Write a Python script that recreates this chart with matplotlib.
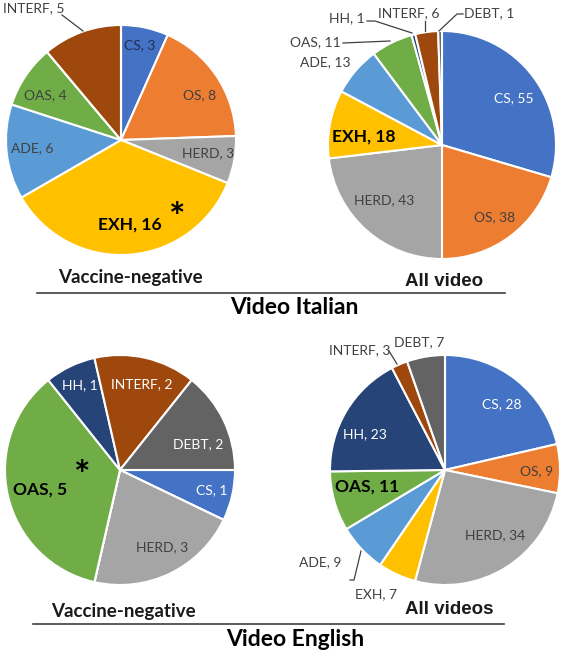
import matplotlib
matplotlib.use("Agg")
import matplotlib.pyplot as plt

# categories in drawing order (clockwise)
cats = ["CS", "OS", "HERD", "EXH", "ADE", "OAS", "HH", "INTERF", "DEBT"]
colors = ["#4472C4", "#ED7D31", "#A5A5A5", "#FFC000", "#5B9BD5",
          "#70AD47", "#264478", "#9E480E", "#636363"]

ita_neg = [3, 8, 3, 16, 6, 4, 0, 5, 0]
ita_all = [55, 38, 43, 18, 13, 11, 1, 6, 1]
eng_neg = [1, 0, 3, 0, 0, 5, 1, 2, 2]
eng_all = [28, 9, 34, 7, 9, 11, 23, 3, 7]

W, H = 564, 654
fig = plt.figure(figsize=(W / 100, H / 100), dpi=100)
ax = fig.add_axes([0, 0, 1, 1])

LABEL_FONT = "Lato"
DARK = "#404040"


def px(x, y):
    # pixel coords (y down) -> axes coords
    return x, H - y


# label layout per pie: category -> (x, y, color, bold)
pies = [
    dict(vals=ita_neg, center=(121, 140), r=115, start=90, labels={
        "CS": (140, 45, "#203050", False),
        "OS": (200, 95, DARK, False),
        "HERD": (208, 153, DARK, False),
        "EXH": (130, 225, "black", True),
        "ADE": (32, 148, DARK, False),
        "OAS": (45, 95, DARK, False),
        "INTERF": (34, 8, DARK, False),
    }, leaders=[[(62, 15), (83, 31)]], star=(177, 219)),
    dict(vals=ita_all, center=(442, 145), r=114, start=90, labels={
        "CS": (514, 98, "white", False),
        "OS": (495, 217, DARK, False),
        "HERD": (384, 200, DARK, False),
        "EXH": (364, 137, "black", True),
        "ADE": (325, 62, DARK, False),
        "OAS": (315, 42, DARK, False),
        "HH": (347, 18, DARK, False),
        "INTERF": (409, 13, DARK, False),
        "DEBT": (489, 13, DARK, False),
    }, leaders=[[(343, 43), (390, 41)],
                [(367, 21), (375, 21), (412, 33)],
                [(425, 21), (425, 31)],
                [(463, 14), (457, 14), (439, 31)]], star=None),
    dict(vals=eng_neg, center=(120, 470), r=115, start=0, labels={
        "HH": (80, 385, "white", False),
        "INTERF": (142, 384, "white", False),
        "DEBT": (198, 444, "white", False),
        "CS": (212, 490, "white", False),
        "HERD": (162, 547, DARK, False),
        "OAS": (40, 490, "black", True),
    }, leaders=[], star=(82, 476)),
    dict(vals=eng_all, center=(445, 470), r=115, start=90, labels={
        "CS": (502, 404, "white", False),
        "OS": (537, 471, DARK, False),
        "HERD": (495, 535, DARK, False),
        "EXH": (376, 594, DARK, False),
        "ADE": (320, 562, DARK, False),
        "OAS": (367, 487, "black", True),
        "HH": (365, 434, "white", False),
        "INTERF": (360, 350, DARK, False),
        "DEBT": (419, 342, DARK, False),
    }, leaders=[[(389, 351), (397, 364)],
                [(350, 580), (354, 580), (361, 551)]], star=None),
]

for p in pies:
    cx, cy = px(*p["center"])
    ax.pie(p["vals"], colors=colors, startangle=p["start"], counterclock=False,
           center=(cx, cy), radius=p["r"], frame=True,
           wedgeprops=dict(edgecolor="white", linewidth=1.5))
    for cat, (x, y, col, bold) in p["labels"].items():
        v = p["vals"][cats.index(cat)]
        ax.text(*px(x, y), f"{cat}, {v}", ha="center", va="center",
                color=col, family=LABEL_FONT,
                fontsize=12.5 if bold else 10,
                fontweight="bold" if bold else "normal")
    for seg in p["leaders"]:
        xs = [s[0] for s in seg]
        ys = [H - s[1] for s in seg]
        ax.plot(xs, ys, color="#404040", lw=0.9)
    if p["star"]:
        ax.text(*px(*p["star"]), "*", ha="center", va="center",
                fontsize=28, fontweight="bold", family=LABEL_FONT, color="black")

ax.set_xlim(0, W)
ax.set_ylim(0, H)
ax.set_aspect("equal")
ax.axis("off")

# subtitles and group titles
ax.text(*px(130, 277), "Vaccine-negative", ha="center", va="center",
        family=LABEL_FONT, fontsize=13.5, fontweight="bold", color="#1a1a1a")
ax.text(*px(444, 282), "All video", ha="center", va="center",
        family="Liberation Sans", fontsize=13.5, fontweight="bold", color="#1a1a1a")
ax.plot([37, 505], [H - 293, H - 293], color="#404040", lw=1.2)
ax.text(*px(294, 308), "Video Italian", ha="center", va="center",
        family=LABEL_FONT, fontsize=16.5, fontweight="bold", color="black")

ax.text(*px(123, 612), "Vaccine-negative", ha="center", va="center",
        family=LABEL_FONT, fontsize=13.5, fontweight="bold", color="#1a1a1a")
ax.text(*px(449, 610), "All videos", ha="center", va="center",
        family="Liberation Sans", fontsize=13.5, fontweight="bold", color="#1a1a1a")
ax.plot([33, 504], [H - 624, H - 624], color="#404040", lw=1.2)
ax.text(*px(295, 640), "Video English", ha="center", va="center",
        family=LABEL_FONT, fontsize=16.5, fontweight="bold", color="black")

fig.savefig("out.png", dpi=100, facecolor="white")
